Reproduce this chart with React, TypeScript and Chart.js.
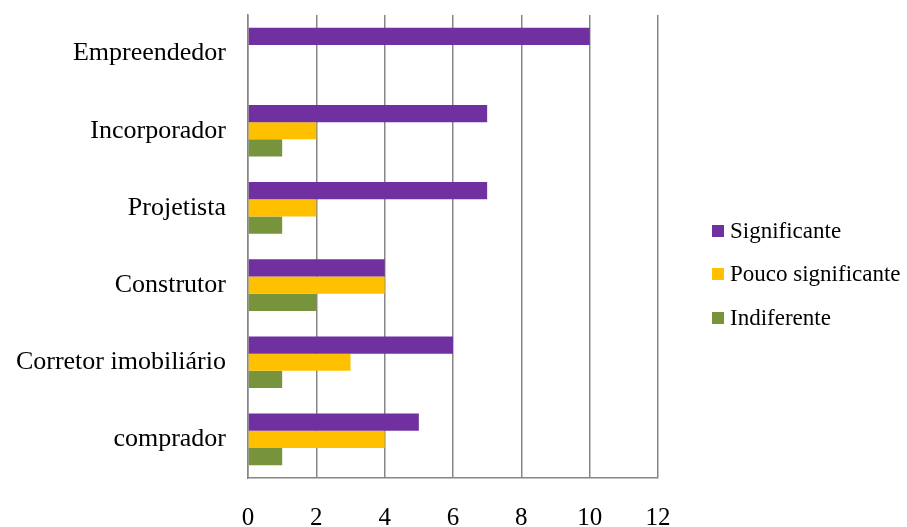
import React, { useEffect, useRef } from "react";
import { Chart, registerables } from "chart.js";

Chart.register(...registerables);

const categories = ["Empreendedor", "Incorporador", "Projetista", "Construtor", "Corretor imobiliário", "comprador"];
const significante = [10, 7, 7, 4, 6, 5];
const poucoSignificante = [0, 2, 2, 4, 3, 4];
const indiferente = [0, 1, 1, 2, 1, 1];
const seriesNames = ["Significante", "Pouco significante", "Indiferente"];
const seriesColors = ["#7030A0", "#FFC000", "#77933C"];
const xMin = 0;
const xMax = 12;
const xStep = 2;

const FONT = "'Liberation Serif', 'Times New Roman', serif";

export default function App() {
  const canvasRef = useRef<HTMLCanvasElement | null>(null);

  useEffect(() => {
    if (!canvasRef.current) return;
    const seriesData = [significante, poucoSignificante, indiferente];
    const chart = new Chart(canvasRef.current, {
      type: "bar",
      data: {
        labels: categories,
        datasets: seriesNames.map((name, i) => ({
          label: name,
          data: seriesData[i],
          backgroundColor: seriesColors[i],
          borderWidth: 0,
          categoryPercentage: 0.67,
          barPercentage: 1,
        })),
      },
      options: {
        indexAxis: "y",
        responsive: false,
        animation: false,
        layout: { padding: { top: 15, right: 249, left: 0, bottom: 0 } },
        plugins: {
          legend: { display: false },
          tooltip: { enabled: false },
        },
        scales: {
          x: {
            min: xMin,
            max: xMax,
            ticks: {
              stepSize: xStep,
              color: "#000",
              font: { family: FONT, size: 25 },
              padding: 25,
            },
            grid: { color: "#868686", lineWidth: 1.5, drawTicks: false },
            border: { color: "#868686", width: 1.5 },
            afterFit: (s: any) => {
              s.height = 49;
            },
          },
          y: {
            grid: { display: false, drawTicks: false },
            border: { color: "#868686", width: 1.5 },
            ticks: {
              color: "#000",
              font: { family: FONT, size: 26 },
              padding: 22,
            },
            afterFit: (s: any) => {
              s.width = 248;
              s.paddingTop = 0;
              s.paddingBottom = 0;
            },
          },
        },
      },
    });
    return () => chart.destroy();
  }, []);

  const legendTops = [231, 274, 318];

  return (
    <div style={{ position: "fixed", left: 0, top: 0, width: 907, height: 527, background: "#fff" }}>
      <canvas ref={canvasRef} width={907} height={527} style={{ display: "block" }} />
      {seriesNames.map((name, i) => (
        <div
          key={name}
          style={{
            position: "absolute",
            left: 712,
            top: legendTops[i] - 15,
            height: 30,
            display: "flex",
            alignItems: "center",
            fontFamily: FONT,
            fontSize: 23,
            color: "#000",
            whiteSpace: "nowrap",
          }}
        >
          <span style={{ display: "inline-block", width: 12, height: 12, background: seriesColors[i], marginRight: 6 }} />
          <span>{name}</span>
        </div>
      ))}
    </div>
  );
}
